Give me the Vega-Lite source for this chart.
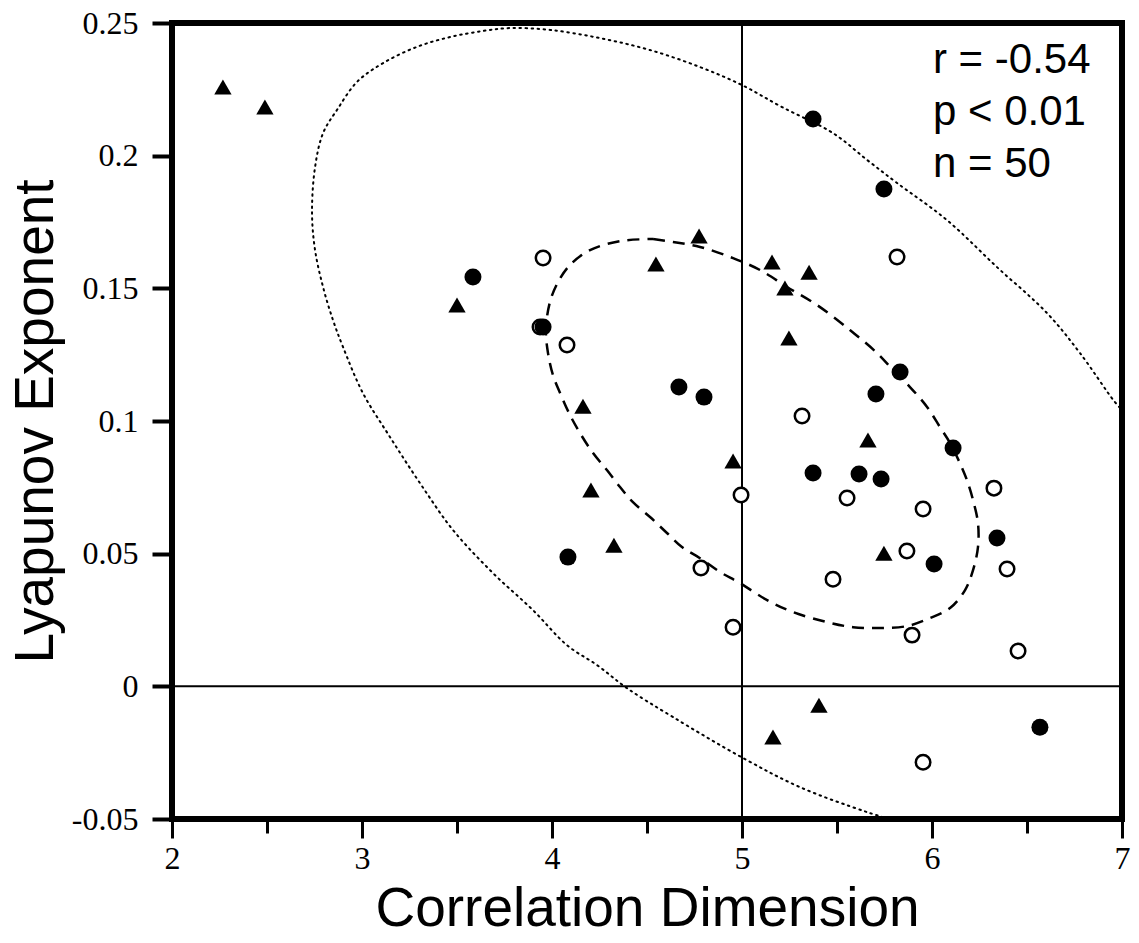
{
  "$schema": "https://vega.github.io/schema/vega-lite/v6.json",
  "width": 950,
  "height": 796,
  "autosize": {"type": "none"},
  "padding": {"left": 172, "top": 23, "right": 17, "bottom": 124},
  "background": "white",
  "config": {
    "view": {"stroke": "black", "strokeWidth": 6},
    "axis": {"grid": false, "domain": false, "labelColor": "black", "tickColor": "black", "titleColor": "black"}
  },
  "datasets": {
    "points": [
      {"type": "tri", "dim": 2.268, "lyap": 0.2259},
      {"type": "tri", "dim": 2.489, "lyap": 0.2183},
      {"type": "tri", "dim": 3.5, "lyap": 0.1437},
      {"type": "tri", "dim": 4.547, "lyap": 0.1592},
      {"type": "tri", "dim": 4.774, "lyap": 0.1697},
      {"type": "tri", "dim": 5.158, "lyap": 0.1599},
      {"type": "tri", "dim": 5.353, "lyap": 0.1561},
      {"type": "tri", "dim": 5.226, "lyap": 0.1501},
      {"type": "tri", "dim": 5.247, "lyap": 0.1313},
      {"type": "tri", "dim": 4.163, "lyap": 0.1056},
      {"type": "tri", "dim": 5.663, "lyap": 0.0928},
      {"type": "tri", "dim": 4.953, "lyap": 0.0849},
      {"type": "tri", "dim": 4.205, "lyap": 0.074},
      {"type": "tri", "dim": 4.326, "lyap": 0.0532},
      {"type": "tri", "dim": 5.747, "lyap": 0.0502},
      {"type": "tri", "dim": 5.405, "lyap": -0.0071},
      {"type": "tri", "dim": 5.163, "lyap": -0.0191},
      {"type": "filled", "dim": 3.584, "lyap": 0.1543},
      {"type": "filled", "dim": 3.953, "lyap": 0.1354},
      {"type": "filled", "dim": 5.374, "lyap": 0.2138},
      {"type": "filled", "dim": 5.747, "lyap": 0.1874},
      {"type": "filled", "dim": 4.668, "lyap": 0.1128},
      {"type": "filled", "dim": 4.8, "lyap": 0.109},
      {"type": "filled", "dim": 5.832, "lyap": 0.1185},
      {"type": "filled", "dim": 5.705, "lyap": 0.1102},
      {"type": "filled", "dim": 5.374, "lyap": 0.0804},
      {"type": "filled", "dim": 5.616, "lyap": 0.08},
      {"type": "filled", "dim": 5.732, "lyap": 0.0781},
      {"type": "filled", "dim": 4.084, "lyap": 0.0487},
      {"type": "filled", "dim": 6.111, "lyap": 0.0898},
      {"type": "filled", "dim": 6.342, "lyap": 0.0559},
      {"type": "filled", "dim": 6.011, "lyap": 0.0461},
      {"type": "filled", "dim": 6.568, "lyap": -0.0154},
      {"type": "open", "dim": 3.953, "lyap": 0.1614},
      {"type": "open", "dim": 4.079, "lyap": 0.1286},
      {"type": "open", "dim": 5.816, "lyap": 0.1618},
      {"type": "open", "dim": 5.316, "lyap": 0.1019},
      {"type": "open", "dim": 4.995, "lyap": 0.0721},
      {"type": "open", "dim": 5.553, "lyap": 0.071},
      {"type": "open", "dim": 4.784, "lyap": 0.0446},
      {"type": "open", "dim": 5.479, "lyap": 0.0404},
      {"type": "open", "dim": 6.326, "lyap": 0.0747},
      {"type": "open", "dim": 5.953, "lyap": 0.0668},
      {"type": "open", "dim": 5.868, "lyap": 0.051},
      {"type": "open", "dim": 6.395, "lyap": 0.0442},
      {"type": "open", "dim": 4.953, "lyap": 0.0223},
      {"type": "open", "dim": 5.895, "lyap": 0.0193},
      {"type": "open", "dim": 6.453, "lyap": 0.0133},
      {"type": "open", "dim": 5.953, "lyap": -0.0286},
      {"type": "open", "dim": 3.937, "lyap": 0.1354}
    ],
    "dashed": [
      {"i": 1, "dim": 4.532, "lyap": 0.1686},
      {"i": 2, "dim": 4.637, "lyap": 0.1675},
      {"i": 3, "dim": 4.779, "lyap": 0.1656},
      {"i": 4, "dim": 4.953, "lyap": 0.1614},
      {"i": 5, "dim": 5.095, "lyap": 0.1569},
      {"i": 6, "dim": 5.237, "lyap": 0.1505},
      {"i": 7, "dim": 5.395, "lyap": 0.1437},
      {"i": 8, "dim": 5.568, "lyap": 0.1343},
      {"i": 9, "dim": 5.711, "lyap": 0.1256},
      {"i": 10, "dim": 5.795, "lyap": 0.1192},
      {"i": 11, "dim": 5.884, "lyap": 0.1128},
      {"i": 12, "dim": 5.974, "lyap": 0.1053},
      {"i": 13, "dim": 6.042, "lyap": 0.0977},
      {"i": 14, "dim": 6.095, "lyap": 0.0917},
      {"i": 15, "dim": 6.147, "lyap": 0.0841},
      {"i": 16, "dim": 6.184, "lyap": 0.0777},
      {"i": 17, "dim": 6.216, "lyap": 0.0702},
      {"i": 18, "dim": 6.242, "lyap": 0.0615},
      {"i": 19, "dim": 6.242, "lyap": 0.0525},
      {"i": 20, "dim": 6.216, "lyap": 0.0438},
      {"i": 21, "dim": 6.174, "lyap": 0.0363},
      {"i": 22, "dim": 6.095, "lyap": 0.0295},
      {"i": 23, "dim": 5.989, "lyap": 0.0257},
      {"i": 24, "dim": 5.868, "lyap": 0.0227},
      {"i": 25, "dim": 5.726, "lyap": 0.022},
      {"i": 26, "dim": 5.584, "lyap": 0.0223},
      {"i": 27, "dim": 5.447, "lyap": 0.0242},
      {"i": 28, "dim": 5.268, "lyap": 0.028},
      {"i": 29, "dim": 5.132, "lyap": 0.0325},
      {"i": 30, "dim": 4.989, "lyap": 0.0389},
      {"i": 31, "dim": 4.884, "lyap": 0.0431},
      {"i": 32, "dim": 4.779, "lyap": 0.0483},
      {"i": 33, "dim": 4.684, "lyap": 0.0525},
      {"i": 34, "dim": 4.605, "lyap": 0.0578},
      {"i": 35, "dim": 4.516, "lyap": 0.0638},
      {"i": 36, "dim": 4.426, "lyap": 0.0694},
      {"i": 37, "dim": 4.358, "lyap": 0.0751},
      {"i": 38, "dim": 4.289, "lyap": 0.0815},
      {"i": 39, "dim": 4.216, "lyap": 0.0879},
      {"i": 40, "dim": 4.147, "lyap": 0.0955},
      {"i": 41, "dim": 4.095, "lyap": 0.1022},
      {"i": 42, "dim": 4.047, "lyap": 0.1098},
      {"i": 43, "dim": 4.005, "lyap": 0.1173},
      {"i": 44, "dim": 3.979, "lyap": 0.1256},
      {"i": 45, "dim": 3.968, "lyap": 0.1343},
      {"i": 46, "dim": 3.989, "lyap": 0.1448},
      {"i": 47, "dim": 4.032, "lyap": 0.1524},
      {"i": 48, "dim": 4.095, "lyap": 0.1588},
      {"i": 49, "dim": 4.2, "lyap": 0.1644},
      {"i": 50, "dim": 4.358, "lyap": 0.1678},
      {"i": 51, "dim": 4.532, "lyap": 0.1686}
    ],
    "dotted": [
      {"i": 1, "dim": 7.011, "lyap": 0.1034},
      {"i": 2, "dim": 6.963, "lyap": 0.1071},
      {"i": 3, "dim": 6.779, "lyap": 0.1256},
      {"i": 4, "dim": 6.605, "lyap": 0.1407},
      {"i": 5, "dim": 6.342, "lyap": 0.158},
      {"i": 6, "dim": 6.079, "lyap": 0.1757},
      {"i": 7, "dim": 5.816, "lyap": 0.1897},
      {"i": 8, "dim": 5.658, "lyap": 0.1984},
      {"i": 9, "dim": 5.479, "lyap": 0.2085},
      {"i": 10, "dim": 5.211, "lyap": 0.2183},
      {"i": 11, "dim": 5.0, "lyap": 0.2266},
      {"i": 12, "dim": 4.779, "lyap": 0.2334},
      {"i": 13, "dim": 4.516, "lyap": 0.2398},
      {"i": 14, "dim": 4.253, "lyap": 0.2443},
      {"i": 15, "dim": 3.989, "lyap": 0.2474},
      {"i": 16, "dim": 3.779, "lyap": 0.2481},
      {"i": 17, "dim": 3.637, "lyap": 0.247},
      {"i": 18, "dim": 3.463, "lyap": 0.2447},
      {"i": 19, "dim": 3.289, "lyap": 0.241},
      {"i": 20, "dim": 3.111, "lyap": 0.2349},
      {"i": 21, "dim": 2.974, "lyap": 0.2278},
      {"i": 22, "dim": 2.868, "lyap": 0.2172},
      {"i": 23, "dim": 2.795, "lyap": 0.2085},
      {"i": 24, "dim": 2.753, "lyap": 0.1957},
      {"i": 25, "dim": 2.737, "lyap": 0.1784},
      {"i": 26, "dim": 2.753, "lyap": 0.1644},
      {"i": 27, "dim": 2.795, "lyap": 0.1505},
      {"i": 28, "dim": 2.847, "lyap": 0.1381},
      {"i": 29, "dim": 2.9, "lyap": 0.1279},
      {"i": 30, "dim": 3.005, "lyap": 0.1105},
      {"i": 31, "dim": 3.147, "lyap": 0.094},
      {"i": 32, "dim": 3.305, "lyap": 0.0766},
      {"i": 33, "dim": 3.479, "lyap": 0.0589},
      {"i": 34, "dim": 3.689, "lyap": 0.0427},
      {"i": 35, "dim": 3.9, "lyap": 0.0287},
      {"i": 36, "dim": 4.079, "lyap": 0.0155},
      {"i": 37, "dim": 4.237, "lyap": 0.008},
      {"i": 38, "dim": 4.395, "lyap": -0.0007},
      {"i": 39, "dim": 4.637, "lyap": -0.0116},
      {"i": 40, "dim": 5.005, "lyap": -0.027},
      {"i": 41, "dim": 5.305, "lyap": -0.038},
      {"i": 42, "dim": 5.658, "lyap": -0.0474},
      {"i": 43, "dim": 5.832, "lyap": -0.0512}
    ],
    "notes": [
      {"label": "r = -0.54", "dim": 6.005, "lyap": 0.2312},
      {"label": "p < 0.01", "dim": 6.005, "lyap": 0.2116},
      {"label": "n = 50", "dim": 6.005, "lyap": 0.192}
    ],
    "vref": [{"dim": 5}],
    "href": [{"lyap": 0}]
  },
  "encoding": {
    "x": {
      "field": "dim", "type": "quantitative",
      "scale": {"domain": [2, 7], "nice": false, "zero": false},
      "axis": {
        "values": [2, 2.5, 3, 3.5, 4, 4.5, 5, 5.5, 6, 6.5, 7],
        "labelExpr": "datum.value % 1 === 0 ? '' + datum.value : ''",
        "tickSize": {"condition": {"test": "datum.value % 1 === 0", "value": 19}, "value": 14},
        "tickWidth": 3, "tickColor": "black",
        "labelFont": "Liberation Serif", "labelFontSize": 32, "labelPadding": 5,
        "labelFlush": false, "labelOverlap": false,
        "title": "Correlation Dimension",
        "titleFont": "Liberation Sans", "titleFontSize": 55, "titleFontWeight": "normal",
        "titleY": 106, "titleBaseline": "alphabetic"
      }
    },
    "y": {
      "field": "lyap", "type": "quantitative",
      "scale": {"domain": [-0.05, 0.25], "nice": false, "zero": false},
      "axis": {
        "values": [-0.05, 0, 0.05, 0.1, 0.15, 0.2, 0.25],
        "labelExpr": "'' + datum.value",
        "tickSize": 20, "tickWidth": 4, "tickColor": "black",
        "labelFont": "Liberation Serif", "labelFontSize": 32, "labelPadding": 14,
        "labelFlush": false, "labelOverlap": false,
        "title": "Lyapunov Exponent",
        "titleFont": "Liberation Sans", "titleFontSize": 55, "titleFontWeight": "normal",
        "titleX": -120, "titleY": 398, "titleAngle": 270, "titleBaseline": "alphabetic", "titleAlign": "center"
      }
    }
  },
  "layer": [
    {
      "data": {"name": "vref"},
      "mark": {"type": "rule", "color": "black", "strokeWidth": 2},
      "encoding": {"y": null}
    },
    {
      "data": {"name": "href"},
      "mark": {"type": "rule", "color": "black", "strokeWidth": 2},
      "encoding": {"x": null}
    },
    {
      "data": {"name": "dotted"},
      "mark": {"type": "line", "color": "black", "strokeWidth": 2, "strokeDash": [1.5, 4.5], "strokeCap": "round", "interpolate": "catmull-rom", "clip": true},
      "encoding": {"order": {"field": "i", "type": "quantitative"}}
    },
    {
      "data": {"name": "dashed"},
      "mark": {"type": "line", "color": "black", "strokeWidth": 2.5, "strokeDash": [12, 8], "interpolate": "catmull-rom"},
      "encoding": {"order": {"field": "i", "type": "quantitative"}}
    },
    {
      "data": {"name": "points"},
      "transform": [{"filter": "datum.type === 'open'"}],
      "mark": {"type": "point", "shape": "circle", "size": 210, "filled": false, "fill": "white", "fillOpacity": 1, "stroke": "black", "strokeWidth": 2.5, "opacity": 1}
    },
    {
      "data": {"name": "points"},
      "transform": [{"filter": "datum.type === 'filled'"}],
      "mark": {"type": "point", "shape": "circle", "size": 289, "filled": true, "color": "black", "opacity": 1}
    },
    {
      "data": {"name": "points"},
      "transform": [{"filter": "datum.type === 'tri'"}],
      "mark": {"type": "point", "shape": "triangle-up", "size": 300, "filled": true, "color": "black", "opacity": 1}
    },
    {
      "data": {"name": "notes"},
      "mark": {"type": "text", "align": "left", "baseline": "alphabetic", "font": "Liberation Sans", "fontSize": 42, "color": "black"},
      "encoding": {"text": {"field": "label", "type": "nominal"}}
    }
  ]
}
